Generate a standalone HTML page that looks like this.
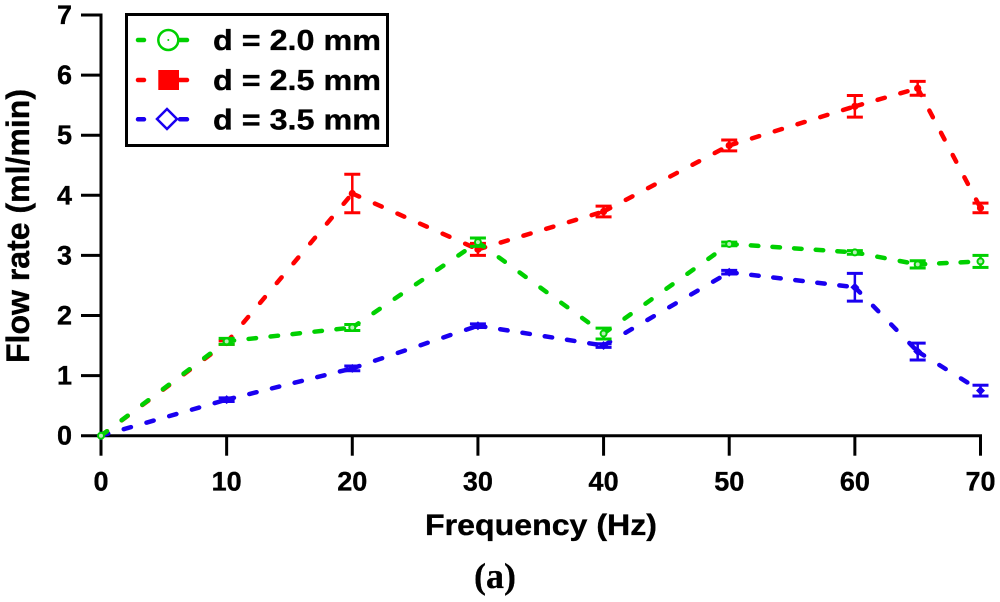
<!DOCTYPE html>
<html lang="en">
<head>
<meta charset="utf-8">
<title>Flow rate vs frequency</title>
<style>
html,body{margin:0;padding:0;background:#fff;}
svg{display:block;}
text{font-family:"Liberation Sans",sans-serif;font-weight:bold;fill:#000;stroke:#000;stroke-width:0.35px;}
</style>
</head>
<body>
<svg id="chart" xmlns="http://www.w3.org/2000/svg" width="1000" height="602" viewBox="0 0 1000 602">
  <rect x="0" y="0" width="1000" height="602" fill="#fff"/>
  <g id="axes"></g>
  <g id="series"></g>
  <text x="425" y="535" font-size="30" textLength="232" lengthAdjust="spacingAndGlyphs">Frequency (Hz)</text>
  <text transform="translate(29,363) rotate(-90)" font-size="32" textLength="274" lengthAdjust="spacingAndGlyphs">Flow rate (ml/min)</text>
  <text x="495" y="588" font-size="36" text-anchor="middle" style="font-family:'Liberation Serif',serif;stroke-width:0.3px">(a)</text>
  <g>
    <rect x="126.5" y="14.5" width="261" height="131" fill="#fff" stroke="#000" stroke-width="3"/>
    <g>
      <path d="M138 40H144M180 40H187" stroke="#00d000" stroke-width="4.5" stroke-linecap="round" fill="none"/>
      <circle cx="168.3" cy="40" r="10" fill="#fff" stroke="#00d000" stroke-width="2.5"/>
      <circle cx="168.3" cy="40" r="1" fill="#00d000"/>
      <text x="213" y="50" font-size="29" textLength="168" lengthAdjust="spacingAndGlyphs">d = 2.0 mm</text>
    </g>
    <g>
      <path d="M138 80H144M176 80H187" stroke="#ff0000" stroke-width="4.5" stroke-linecap="round" fill="none"/>
      <rect x="158.300" y="70" width="20.700" height="20" fill="#ff0000"/>
      <text x="213" y="90" font-size="29" textLength="168" lengthAdjust="spacingAndGlyphs">d = 2.5 mm</text>
    </g>
    <g>
      <path d="M138 119.300H144M180 119.300H187" stroke="#1a00f0" stroke-width="4.5" stroke-linecap="round" fill="none"/>
      <path d="M167 109L177 119L167 129L157 119Z" fill="#fff" stroke="#1a00f0" stroke-width="2.500"/>
      <text x="213" y="129.500" font-size="29" textLength="168" lengthAdjust="spacingAndGlyphs">d = 3.5 mm</text>
    </g>
  </g>
</svg>
<script>
const frequencies = [0, 10, 20, 30, 40, 50, 60, 65, 70];
const green20Values = [0, 1.57, 1.80, 3.22, 1.70, 3.19, 3.05, 2.85, 2.90];
const green20Errors = [0, 0.05, 0.05, 0.07, 0.09, 0.03, 0.03, 0.06, 0.10];
const red25Values = [0, 1.55, 4.03, 3.10, 3.73, 4.83, 5.48, 5.78, 3.79];
const red25Errors = [0, 0.03, 0.32, 0.10, 0.09, 0.09, 0.18, 0.115, 0.08];
const blue35Values = [0, 0.60, 1.12, 1.83, 1.50, 2.72, 2.47, 1.40, 0.75];
const blue35Errors = [0, 0.03, 0.04, 0.03, 0.03, 0.03, 0.23, 0.14, 0.09];
const xTickValues = [0, 10, 20, 30, 40, 50, 60, 70];
const yTickValues = [0, 1, 2, 3, 4, 5, 6, 7];

const NS = 'http://www.w3.org/2000/svg';
const xScale = function (v) { return 101 + (v / 70) * 879.5; };
const yScale = function (v) { return 435.7 - (v / 7) * 420.7; };

function make(tag, parent) {
  const el = document.createElementNS(NS, tag);
  parent.appendChild(el);
  return el;
}

function line(parent, x1, y1, x2, y2, color, width) {
  const el = make('line', parent);
  el.setAttribute('x1', x1);
  el.setAttribute('y1', y1);
  el.setAttribute('x2', x2);
  el.setAttribute('y2', y2);
  el.setAttribute('stroke', color);
  el.setAttribute('stroke-width', width);
  return el;
}

const axes = document.getElementById('axes');

const xAxis = line(axes, xScale(0) - 1.5, yScale(0), xScale(70) + 1.5, yScale(0), '#000', 3);



const yAxis = line(axes, xScale(0), yScale(0) + 1.5, xScale(0), yScale(7) - 1.5, '#000', 3);



xTickValues.forEach(function (t) {
  const tick = line(axes, xScale(t), yScale(0), xScale(t), yScale(0) + 20, '#000', 3);
  
  
  const label = make('text', axes);
  
  
  label.setAttribute('x', xScale(t));
  label.setAttribute('y', yScale(0) + 55);
  label.setAttribute('font-size', '27');
  label.setAttribute('text-anchor', 'middle');
  label.textContent = String(t);
});

yTickValues.forEach(function (t) {
  const tick = line(axes, xScale(0) - 20, yScale(t), xScale(0), yScale(t), '#000', 3);
  
  
  const label = make('text', axes);
  
  
  label.setAttribute('x', xScale(0) - 29);
  label.setAttribute('y', yScale(t) + 9);
  label.setAttribute('font-size', '27');
  label.setAttribute('text-anchor', 'end');
  label.textContent = String(t);
});

function drawSeries(key, values, errors, color, markerType) {
  const root = document.getElementById('series');
  const group = make('g', root);
  
  

  for (let i = 0; i < frequencies.length - 1; i++) {
    const x1 = xScale(frequencies[i]);
    const y1 = yScale(values[i]);
    const x2 = xScale(frequencies[i + 1]);
    const y2 = yScale(values[i + 1]);
    const angle = Math.atan2(Math.abs(y2 - y1), Math.abs(x2 - x1));
    const period = 21 + 5 * Math.sin(2 * angle);
    const segment = line(group, x1, y1, x2, y2, color, 4.5);
    
    
    segment.setAttribute('stroke-linecap', 'round');
    segment.setAttribute('stroke-dasharray', '7.5 ' + (period - 7.5).toFixed(2));
  }

  frequencies.forEach(function (f, i) {
    const x = xScale(f);
    const y = yScale(values[i]);
    if (errors[i] > 0) {
      const top = yScale(values[i] + errors[i]);
      const bottom = yScale(values[i] - errors[i]);
      const bar = line(group, x, top, x, bottom, color, 2.5);
      
      
      const capTop = line(group, x - 8, top, x + 8, top, color, 3);
      
      
      const capBottom = line(group, x - 8, bottom, x + 8, bottom, color, 3);
      
      
    }
    let marker;
    if (markerType === 'circle') {
      marker = make('circle', group);
      marker.setAttribute('cx', x);
      marker.setAttribute('cy', y);
      marker.setAttribute('r', '3');
      marker.setAttribute('fill', '#b8f0b8');
      marker.setAttribute('stroke', color);
      marker.setAttribute('stroke-width', '2');
    } else if (markerType === 'dot') {
      marker = make('circle', group);
      marker.setAttribute('cx', x);
      marker.setAttribute('cy', y);
      marker.setAttribute('r', '3.6');
      marker.setAttribute('fill', color);
    } else {
      marker = make('path', group);
      marker.setAttribute('d', 'M' + x + ' ' + (y - 4.5) + 'L' + (x + 4.5) + ' ' + y + 'L' + x + ' ' + (y + 4.5) + 'L' + (x - 4.5) + ' ' + y + 'Z');
      marker.setAttribute('fill', color);
    }
    
    
  });
}

drawSeries('d-3-5', blue35Values, blue35Errors, '#1a00f0', 'diamond');
drawSeries('d-2-5', red25Values, red25Errors, '#ff0000', 'dot');
drawSeries('d-2-0', green20Values, green20Errors, '#00d000', 'circle');
</script>
</body>
</html>
